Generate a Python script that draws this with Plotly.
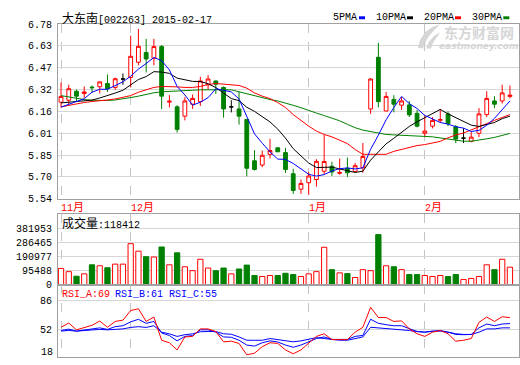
import plotly.graph_objects as go

# ---------------- data ----------------
stock_name = "大东南"
stock_code = "002263"
report_date = "2015-02-17"

month_labels = ["11月", "12月", "1月", "2月"]
month_start = [0, 9, 32, 47]

open_ = [6.225, 6.239, 6.303, 6.287, 6.332, 6.335, 6.358, 6.330, 6.390, 6.401,
         6.509, 6.578, 6.537, 6.620, 6.226, 6.192, 6.126, 6.211, 6.229, 6.349,
         6.376, 6.330, 6.192, 6.177, 6.103, 5.809, 5.779, 5.855, 5.901, 5.867,
         5.717, 5.607, 5.653, 5.676, 5.735, 5.770, 5.720, 5.756, 5.733, 5.760,
         6.177, 6.544, 6.163, 6.245, 6.204, 6.206, 6.146, 6.004, 6.055, 6.097,
         6.142, 6.050, 5.970, 5.947, 6.004, 6.137, 6.234, 6.234, 6.266]
high_ = [6.365, 6.349, 6.314, 6.337, 6.344, 6.372, 6.422, 6.399, 6.429, 6.697,
         6.746, 6.675, 6.675, 6.631, 6.275, 6.204, 6.261, 6.280, 6.406, 6.418,
         6.378, 6.337, 6.239, 6.298, 6.103, 5.884, 5.882, 5.965, 5.905, 5.901,
         5.752, 5.676, 5.729, 5.820, 5.993, 5.802, 5.825, 5.832, 5.793, 5.935,
         6.395, 6.647, 6.298, 6.275, 6.261, 6.234, 6.170, 6.130, 6.119, 6.177,
         6.160, 6.062, 6.039, 6.015, 6.183, 6.303, 6.268, 6.349, 6.344]
low_ = [6.188, 6.211, 6.234, 6.256, 6.291, 6.287, 6.298, 6.312, 6.349, 6.330,
        6.487, 6.436, 6.487, 6.177, 6.188, 6.009, 6.096, 6.177, 6.199, 6.314,
        6.284, 6.115, 6.153, 6.066, 5.698, 5.740, 5.763, 5.825, 5.870, 5.722,
        5.574, 5.574, 5.568, 5.625, 5.710, 5.701, 5.710, 5.694, 5.729, 5.724,
        6.142, 6.188, 6.160, 6.153, 6.170, 6.119, 6.046, 5.977, 6.039, 6.077,
        6.055, 5.935, 5.935, 5.940, 5.977, 6.119, 6.183, 6.215, 6.252]
close_ = [6.266, 6.321, 6.268, 6.298, 6.328, 6.369, 6.321, 6.392, 6.390, 6.551,
          6.622, 6.532, 6.620, 6.268, 6.232, 6.032, 6.234, 6.252, 6.376, 6.390,
          6.353, 6.177, 6.192, 6.126, 5.756, 5.747, 5.848, 5.882, 5.873, 5.747,
          5.598, 5.648, 5.701, 5.805, 5.804, 5.729, 5.726, 5.724, 5.774, 5.840,
          6.390, 6.229, 6.266, 6.211, 6.234, 6.135, 6.055, 6.020, 6.096, 6.101,
          6.073, 5.963, 5.970, 5.977, 6.142, 6.252, 6.211, 6.291, 6.275]

volume = [110000, 88000, 57000, 73000, 134600, 128000, 114700, 139300, 139300, 278500,
          227400, 189600, 187700, 256000, 134600, 216200, 121300, 94800, 172400, 112700,
          94800, 112700, 72900, 106100, 132600, 61700, 55000, 61700, 61700, 76900,
          68300, 55000, 72900, 88200, 254000, 101500, 79600, 74900, 48400, 101500,
          94800, 340200, 128000, 121300, 101500, 68300, 68300, 61700, 55000, 61700,
          55000, 68300, 35100, 41800, 55000, 134600, 101500, 172400, 118412]

ma5 = [6.19, 6.21, 6.23, 6.25, 6.296, 6.317, 6.317, 6.342, 6.37, 6.41,
       6.46, 6.50, 6.543, 6.52, 6.455, 6.337, 6.277, 6.204, 6.225, 6.257,
       6.321, 6.310, 6.298, 6.248, 6.121, 6.000, 5.934, 5.872, 5.821, 5.819,
       5.790, 5.750, 5.713, 5.700, 5.711, 5.737, 5.753, 5.758, 5.751, 5.759,
       5.891, 5.991, 6.100, 6.187, 6.266, 6.215, 6.180, 6.131, 6.108, 6.081,
       6.069, 6.051, 6.041, 6.017, 6.025, 6.061, 6.110, 6.175, 6.234]
ma10 = [6.220, 6.225, 6.230, 6.235, 6.240, 6.255, 6.270, 6.290, 6.310, 6.350,
        6.386, 6.407, 6.442, 6.439, 6.430, 6.396, 6.387, 6.373, 6.372, 6.356,
        6.329, 6.293, 6.251, 6.236, 6.189, 6.160, 6.122, 6.085, 6.034, 5.970,
        5.895, 5.842, 5.793, 5.761, 5.765, 5.764, 5.751, 5.736, 5.726, 5.735,
        5.814, 5.872, 5.929, 5.969, 6.012, 6.053, 6.086, 6.115, 6.148, 6.174,
        6.142, 6.115, 6.086, 6.062, 6.053, 6.065, 6.081, 6.108, 6.126]
ma20 = [6.192, 6.203, 6.215, 6.223, 6.230, 6.234, 6.241, 6.248, 6.258, 6.272,
        6.296, 6.313, 6.330, 6.337, 6.337, 6.334, 6.330, 6.330, 6.337, 6.351,
        6.358, 6.354, 6.349, 6.344, 6.325, 6.291, 6.268, 6.251, 6.222, 6.188,
        6.137, 6.093, 6.055, 6.020, 5.996, 5.979, 5.955, 5.931, 5.889, 5.855,
        5.855, 5.855, 5.855, 5.876, 5.889, 5.903, 5.917, 5.924, 5.934, 5.947,
        5.972, 5.993, 6.006, 6.027, 6.050, 6.073, 6.096, 6.117, 6.137]
ma30 = [6.272, 6.261, 6.251, 6.244, 6.239, 6.237, 6.237, 6.241, 6.248, 6.258,
        6.268, 6.282, 6.292, 6.299, 6.303, 6.306, 6.307, 6.310, 6.313, 6.314,
        6.314, 6.314, 6.313, 6.299, 6.285, 6.268, 6.256, 6.244, 6.234, 6.220,
        6.203, 6.186, 6.165, 6.148, 6.130, 6.113, 6.093, 6.068, 6.044, 6.027,
        6.015, 6.004, 5.996, 5.993, 5.989, 5.989, 5.986, 5.982, 5.979, 5.972,
        5.962, 5.955, 5.948, 5.948, 5.955, 5.965, 5.975, 5.989, 6.003]

rsi_a = [54.7, 59.6, 51.7, 54.0, 57.0, 62.0, 54.7, 61.5, 63.0, 74.3,
         76.3, 61.5, 66.7, 39.5, 36.6, 28.2, 43.4, 44.0, 52.8, 52.8,
         49.7, 37.7, 38.4, 35.8, 22.5, 24.4, 32.0, 36.6, 35.8, 28.2,
         23.7, 28.2, 35.8, 44.0, 47.1, 40.3, 40.3, 40.3, 49.0, 54.7,
         78.1, 66.1, 66.1, 61.5, 62.2, 52.8, 47.1, 44.0, 49.0, 50.9,
         47.1, 38.4, 39.5, 41.5, 60.4, 66.7, 61.5, 67.0, 66.0]
rsi_b = [50.9, 52.5, 50.2, 51.7, 52.8, 54.0, 52.2, 55.4, 56.5, 61.0,
         64.0, 59.3, 61.5, 48.0, 45.0, 38.8, 44.0, 45.0, 51.7, 51.7,
         49.0, 43.4, 43.0, 39.5, 33.9, 32.7, 36.6, 38.8, 37.5, 33.9,
         31.3, 33.9, 37.7, 41.5, 43.4, 40.5, 40.5, 40.5, 44.0, 45.2,
         64.1, 59.3, 57.7, 56.5, 56.5, 52.8, 49.7, 49.0, 50.2, 50.9,
         49.0, 46.3, 46.0, 46.3, 54.0, 58.5, 56.5, 58.5, 59.0]
rsi_c = [50.2, 51.0, 50.2, 50.6, 51.7, 52.2, 51.7, 52.5, 52.8, 54.5,
         55.4, 54.5, 56.5, 49.0, 47.0, 44.0, 46.0, 47.0, 49.5, 49.7,
         49.7, 47.1, 46.5, 43.4, 39.5, 39.5, 39.5, 41.5, 40.5, 39.5,
         37.7, 38.8, 40.3, 42.6, 41.5, 40.3, 39.5, 39.5, 41.5, 43.4,
         54.7, 54.0, 52.8, 52.8, 51.7, 50.9, 49.7, 49.0, 50.2, 50.2,
         49.0, 47.1, 46.3, 46.3, 49.0, 52.8, 52.8, 54.0, 54.0]

price_ticks = [5.54, 5.695, 5.85, 6.005, 6.16, 6.315, 6.47, 6.625, 6.78]
price_tick_text = ["5.54", "5.70", "5.85", "6.01", "6.16", "6.32", "6.47", "6.63", "6.78"]
vol_ticks = [0, 95488, 190977, 286465, 381953]
vol_tick_text = ["0", "95488", "190977", "286465", "381953"]
rsi_ticks = [52, 86]
rsi_tick_text = ["52", "86"]
rsi_bottom_label = "18"
last_volume = 118412
rsi_last = [69, 61, 55]
ma_names = ["5PMA", "10PMA", "20PMA", "30PMA"]

# ---------------- styling / layout helpers ----------------
RED = "#ff0000"
GREEN = "#008000"
BLUE = "#0000ff"
BLACK = "#000000"
FRAME = "#a0a0a0"
GRID = "#d6d6d6"
VGRID = "#c4c4c4"
WMARK = "#d6d6d6"
MONO = "Liberation Mono, DejaVu Sans Mono, monospace"
CJK = "Noto Sans CJK SC"

W, H = 520, 365
L, R = 58, 519


def fx(px):
    return (px - L) / (R - L)


def fy(py):
    return (H - py) / H


def cjk(s, size=12):
    out = ""
    for ch in s:
        if ord(ch) > 0x2E80:
            out += "<span style='font-family:%s;font-size:%dpx'>%s</span>" % (CJK, size, ch)
        else:
            out += ch
    return out


def paper_path(points):
    return "M " + " L ".join("%.5f,%.5f" % (fx(a), fy(b)) for a, b in points) + " Z"


n = len(close_)
idx = list(range(n))
x_range = [-0.39, 59.17]

fig = go.Figure()

# watermark logo (behind everything)
for pts in ([(418, 45), (420, 37), (425, 29), (432, 24), (440, 21), (435, 26), (429, 33), (425, 40), (423, 46)],
            [(426, 46), (429, 39), (434, 33), (440, 29), (437, 34), (433, 40), (431, 46)]):
    fig.add_shape(type="path", xref="paper", yref="paper", path=paper_path(pts),
                  fillcolor=WMARK, line=dict(width=0), layer="below")

# candles (regular)
reg = [i for i in idx if open_[i] != close_[i]]
flat = [i for i in idx if open_[i] == close_[i]]
fig.add_trace(go.Candlestick(
    x=reg, open=[open_[i] for i in reg], high=[high_[i] for i in reg],
    low=[low_[i] for i in reg], close=[close_[i] for i in reg],
    increasing=dict(line=dict(color=RED, width=1), fillcolor="#ffffff"),
    decreasing=dict(line=dict(color=GREEN, width=1), fillcolor=GREEN),
    whiskerwidth=0, showlegend=False, hoverinfo="skip", xaxis="x", yaxis="y"))
fig.add_trace(go.Candlestick(
    x=flat, open=[open_[i] for i in flat], high=[high_[i] for i in flat],
    low=[low_[i] for i in flat], close=[close_[i] for i in flat],
    increasing=dict(line=dict(color=BLACK, width=1), fillcolor=BLACK),
    decreasing=dict(line=dict(color=BLACK, width=1), fillcolor=BLACK),
    whiskerwidth=0, showlegend=False, hoverinfo="skip", xaxis="x", yaxis="y"))

for vals, col in [(ma30, GREEN), (ma20, RED), (ma10, BLACK), (ma5, BLUE)]:
    fig.add_trace(go.Scatter(x=idx, y=vals, mode="lines", line=dict(color=col, width=1),
                             showlegend=False, hoverinfo="skip", xaxis="x", yaxis="y"))

# volume
up = [close_[i] >= open_[i] for i in idx]
fig.add_trace(go.Bar(
    x=idx, y=volume, width=0.68,
    marker=dict(color=["#ffffff" if u else GREEN for u in up],
                line=dict(color=[RED if u else GREEN for u in up], width=1)),
    showlegend=False, hoverinfo="skip", xaxis="x2", yaxis="y2"))

# RSI
for vals, col in [(rsi_c, BLUE), (rsi_b, BLUE), (rsi_a, RED)]:
    fig.add_trace(go.Scatter(x=idx, y=vals, mode="lines", line=dict(color=col, width=1),
                             showlegend=False, hoverinfo="skip", xaxis="x3", yaxis="y3"))

xcommon = dict(range=x_range, showgrid=True, gridcolor=VGRID, griddash="dash", gridwidth=1,
               tickvals=month_start, showticklabels=False, ticks="", zeroline=False,
               showline=True, mirror=True, linecolor=FRAME, linewidth=1, fixedrange=True)
ycommon = dict(showgrid=True, gridcolor=GRID, gridwidth=1, zeroline=False, ticks="",
               showline=True, mirror=True, linecolor=FRAME, linewidth=1,
               tickfont=dict(family=MONO, size=10, color="#000000"), fixedrange=True,
               ticklabelstandoff=3)

fig.update_layout(
    width=W, height=H, autosize=False,
    margin=dict(l=L, r=W - R, t=0, b=0, pad=0),
    paper_bgcolor="#ffffff", plot_bgcolor="rgba(0,0,0,0)",
    showlegend=False, bargap=0.3,
    xaxis=dict(xcommon, domain=[0, 1], anchor="y", rangeslider=dict(visible=False)),
    xaxis2=dict(xcommon, domain=[0, 1], anchor="y2", matches="x"),
    xaxis3=dict(xcommon, domain=[0, 1], anchor="y3", matches="x"),
    yaxis=dict(ycommon, domain=[fy(200.7), fy(20.7)], range=[5.54, 6.78],
               tickvals=price_ticks, ticktext=price_tick_text),
    yaxis2=dict(ycommon, domain=[fy(289.3), fy(216.7)], range=[0, 479400],
                tickvals=vol_ticks, ticktext=vol_tick_text),
    yaxis3=dict(ycommon, domain=[fy(364), fy(289.3)], range=[19.9, 104.6],
                tickvals=rsi_ticks, ticktext=rsi_tick_text),
)

ann = []
# watermark text
ann.append(dict(text="<b>东方财富网</b>", x=fx(479), y=fy(28.5), xref="paper", yref="paper",
                xanchor="center", yanchor="middle", showarrow=False,
                font=dict(family=CJK, size=14, color=WMARK)))
ann.append(dict(text="<b><i>eastmoney.com</i></b>", x=fx(478.5), y=fy(43), xref="paper", yref="paper",
                xanchor="center", yanchor="middle", showarrow=False,
                font=dict(family="DejaVu Sans, sans-serif", size=9, color=WMARK)))
# title
ann.append(dict(text=cjk(stock_name) + "[%s] %s" % (stock_code, report_date),
                x=fx(60), y=fy(14), xref="paper", yref="paper", xanchor="left", yanchor="middle",
                showarrow=False, font=dict(family=MONO, size=10, color="#000000")))
# MA legend
leg_x = [331, 374, 422, 470]
sq_x = [359, 407, 455, 503.3]
for name, lx, sx, col in zip(ma_names, leg_x, sq_x, [BLUE, BLACK, RED, GREEN]):
    ann.append(dict(text=name, x=fx(lx), y=fy(14), xref="paper", yref="paper",
                    xanchor="left", yanchor="middle", showarrow=False,
                    font=dict(family=MONO, size=10, color="#000000")))
    fig.add_shape(type="rect", xref="paper", yref="paper", x0=fx(sx), x1=fx(sx + 6),
                  y0=fy(15.7), y1=fy(12.7), fillcolor=col, line=dict(width=0))
# month labels
for lab, ms in zip(month_labels, month_start):
    ann.append(dict(text=cjk(lab, 11), x=ms, y=fy(208.5), xref="x", yref="paper",
                    xanchor="left", yanchor="middle", xshift=-2, showarrow=False,
                    font=dict(family=MONO, size=10, color=RED)))
# volume header
ann.append(dict(text=cjk("成交量") + ":%d" % last_volume, x=fx(60), y=fy(225),
                xref="paper", yref="paper", xanchor="left", yanchor="middle", showarrow=False,
                font=dict(family=MONO, size=10, color="#000000")))
# RSI labels
for lab, v, lx, col in zip(["RSI_A", "RSI_B", "RSI_C"], rsi_last, [60, 113.3, 166.7], [RED, BLUE, BLUE]):
    ann.append(dict(text="%s:%d" % (lab, v), x=fx(lx), y=fy(299.5), xref="paper", yref="paper",
                    xanchor="left", yanchor="middle", showarrow=False,
                    font=dict(family=MONO, size=10, color=col)))
ann.append(dict(text=rsi_bottom_label, x=fx(55), y=fy(359), xref="paper", yref="paper",
                xanchor="right", yanchor="middle", showarrow=False,
                font=dict(family=MONO, size=10, color="#000000")))
fig.update_layout(annotations=ann)

fig.write_html("out.html", config=dict(displayModeBar=False, staticPlot=True),
               post_script="document.body.style.margin='0px';document.body.style.padding='0px';")
